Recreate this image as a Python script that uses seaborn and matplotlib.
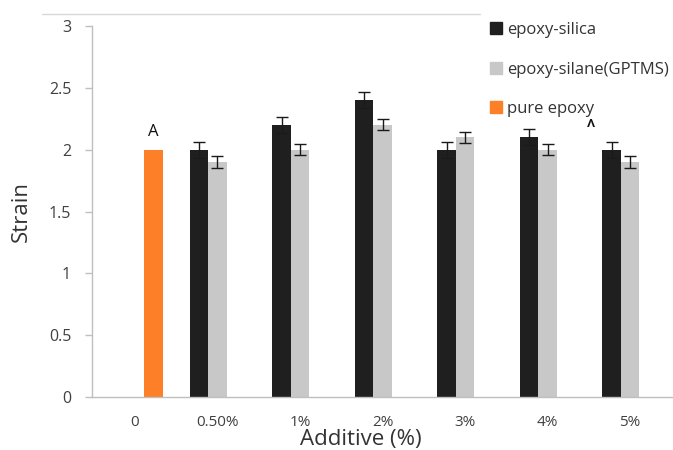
import numpy as np
import pandas as pd
import matplotlib.pyplot as plt
from matplotlib.lines import Line2D
from matplotlib.transforms import Bbox, TransformedBbox
import seaborn as sns

# data
categories = ["0", "0.50%", "1%", "2%", "3%", "4%", "5%"]
series = ["epoxy-silica", "epoxy-silane(GPTMS)", "pure epoxy"]
silica = [np.nan, 2.0, 2.2, 2.4, 2.0, 2.1, 2.0]
silica_err = [np.nan, 0.065, 0.065, 0.065, 0.065, 0.065, 0.065]
silane = [np.nan, 1.9, 2.0, 2.2, 2.1, 2.0, 1.9]
silane_err = [np.nan, 0.045, 0.045, 0.045, 0.045, 0.045, 0.045]
pure = [2.0, np.nan, np.nan, np.nan, np.nan, np.nan, np.nan]
colors = ["#1f1f1f", "#c8c8c8", "#fd7f28"]

rows = []
for name, vals, errs in [(series[0], silica, silica_err),
                         (series[1], silane, silane_err),
                         (series[2], pure, [np.nan] * len(pure))]:
    for c, v, e in zip(categories, vals, errs):
        if not np.isnan(v):
            rows.append({"Additive": c, "Series": name, "Strain": v, "err": e})
df = pd.DataFrame(rows)

sns.set_style("white")
plt.rcParams["font.family"] = ["Open Sans", "DejaVu Sans"]

fig = plt.figure(figsize=(6.73, 4.5), dpi=100)
ax = fig.add_axes([92 / 673, 53 / 450, 1 - 92 / 673, 371 / 450])

sns.barplot(data=df, x="Additive", y="Strain", hue="Series", order=categories,
            hue_order=series, palette=colors, width=0.67, errorbar=None,
            saturation=1, legend=False, ax=ax)

# error bars on the bar centres
for name, cont in zip(series, ax.containers):
    sub = df[df["Series"] == name]
    for bar, (_, r) in zip(cont.patches, sub.iterrows()):
        bar.set_edgecolor("none")
        if np.isnan(r["err"]):
            continue
        xc = bar.get_x() + bar.get_width() / 2
        ax.errorbar(xc, r["Strain"], yerr=r["err"], color="#1a1a1a",
                    lw=1, capsize=4, capthick=1)

# "A" above the pure epoxy bar
pb = ax.containers[2].patches[0]
ax.annotate("A", (pb.get_x() + pb.get_width() / 2, pb.get_height()),
            xytext=(0, 7), textcoords="offset points", ha="center",
            va="bottom", fontsize=12, color="#111111")

# partly hidden second "A" (only its top shows)
t = ax.text(5.53, 2.245, "A", ha="center", va="top", fontsize=16, color="#111111")
t.set_clip_on(True)
t.set_clip_box(TransformedBbox(Bbox([[5.2, 2.185], [5.9, 2.4]]), ax.transData))

ax.set_ylim(0, 3)
ax.set_xlim(-0.52, 6.52)
ax.set_yticks([0, 0.5, 1, 1.5, 2, 2.5, 3])
ax.set_yticklabels(["0", "0.5", "1", "1.5", "2", "2.5", "3"])

for s in ["top", "right"]:
    ax.spines[s].set_visible(False)
for s in ["left", "bottom"]:
    ax.spines[s].set_color("#bfbfbf")
    ax.spines[s].set_linewidth(1)

ax.tick_params(axis="y", left=True, length=5, width=1, color="#bfbfbf",
               pad=10, labelsize=11.5, labelcolor="#404040")
ax.tick_params(axis="x", bottom=False, length=0, pad=13, labelsize=11,
               labelcolor="#404040")

ax.set_xlabel("")
ax.set_ylabel("Strain", fontsize=16, color="#333333", labelpad=12)
fig.text(361 / 673, 4.5 / 450, "Additive (%)", ha="center", va="baseline",
         fontsize=16, color="#333333")

handles = [Line2D([], [], marker="s", ls="none", markersize=8, color=c) for c in colors]
fig.legend(handles, series, loc="upper left", bbox_to_anchor=(489 / 673, 1 - 22 / 450),
           frameon=False, fontsize=12, labelspacing=1.42, handlelength=0.8,
           handletextpad=0.3, borderpad=0, borderaxespad=0, labelcolor="#333333")

# thin grey line across the top
fig.add_artist(Line2D([42 / 673, 480 / 673], [1 - 14 / 450] * 2, color="#d9d9d9", lw=1))

fig.savefig("out.png", dpi=100)
